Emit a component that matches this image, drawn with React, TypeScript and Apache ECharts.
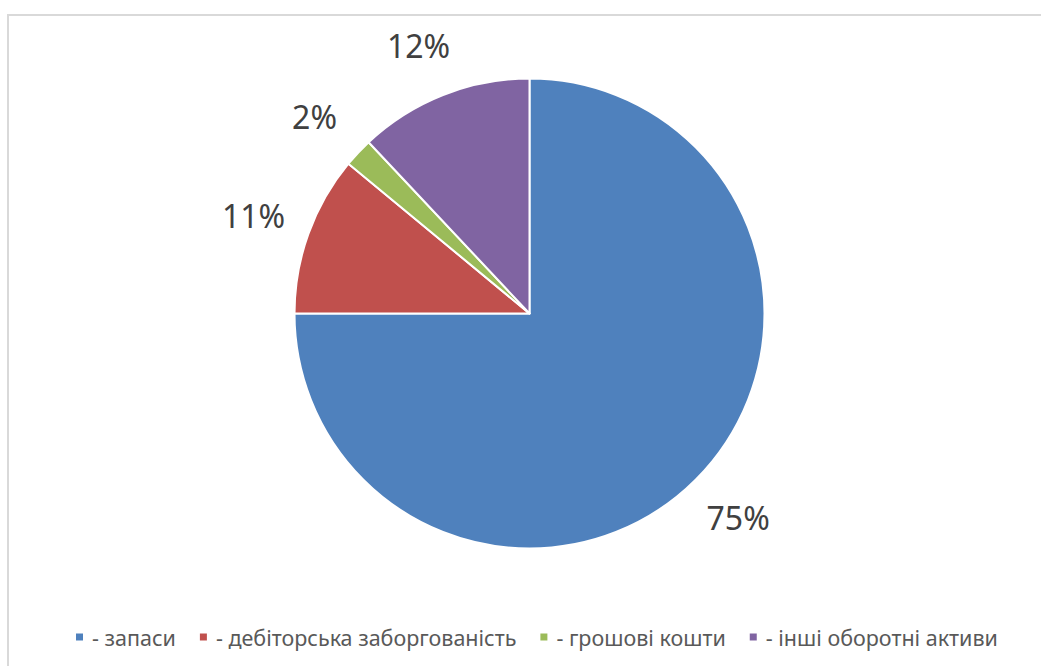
import React, { useEffect, useRef } from "react";
import * as echarts from "echarts";

const categories = ["- запаси", "- дебіторська заборгованість", "- грошові кошти", "- інші оборотні активи"];
const values = [75, 11, 2, 12];
const colors = ["#4F81BD", "#C0504D", "#9BBB59", "#8064A2"];

export default function App() {
  const ref = useRef<HTMLDivElement>(null);
  useEffect(() => {
    if (!ref.current) return;
    const chart = echarts.init(ref.current, null, { renderer: "svg" });
    chart.setOption({
      animation: false,
      backgroundColor: "#ffffff",
      graphic: [
        {
          type: "rect",
          shape: { x: 8, y: 15, width: 1100, height: 700 },
          style: { fill: "none", stroke: "#d9d9d9", lineWidth: 2 },
          silent: true,
        },
      ],
      legend: {
        top: 621,
        left: 69,
        icon: "rect",
        itemWidth: 9,
        itemHeight: 9,
        itemGap: 22,
        textStyle: { color: "#595959", fontSize: 21.5, fontFamily: "Noto Sans", padding: [0, 0, 0, 3] },
        data: categories,
      },
      series: [
        {
          type: "pie",
          center: [529.5, 313.5],
          radius: 235,
          startAngle: 90,
          clockwise: true,
          avoidLabelOverlap: false,
          itemStyle: { borderColor: "#ffffff", borderWidth: 2 },
          label: {
            show: true,
            position: "outside",
            formatter: "{d}%",
            fontSize: 32,
            color: "#404040",
            fontFamily: "Noto Sans",
          },
          labelLine: { show: false, length: 53, length2: 0 },
          labelLayout: (p: any) => {
            const w = p.labelRect.width;
            return { dx: p.align === "left" ? -w / 2 : p.align === "right" ? w / 2 : 0 };
          },
          data: categories.map((c, i) => ({ name: c, value: values[i], itemStyle: { color: colors[i] } })),
        },
      ],
    });
    return () => chart.dispose();
  }, []);
  return <div ref={ref} style={{ position: "fixed", left: 0, top: 0, width: 1041, height: 666 }} />;
}
